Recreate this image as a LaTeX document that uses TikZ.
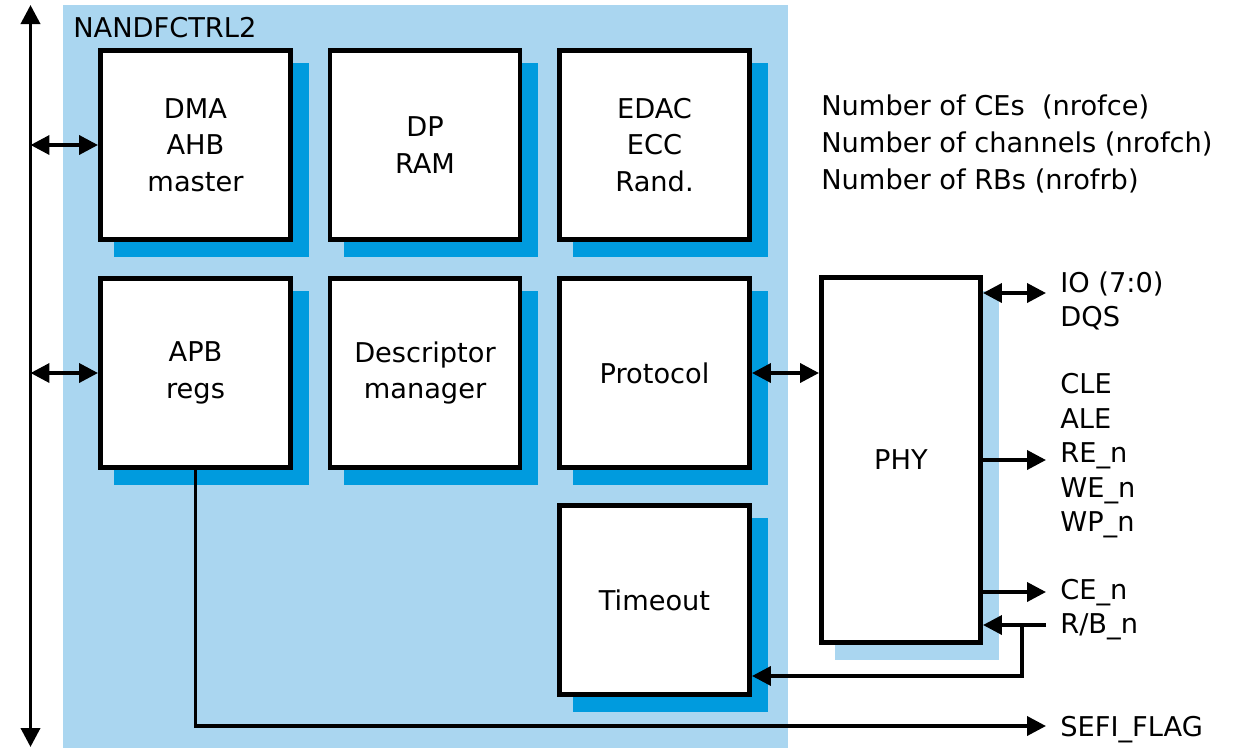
\documentclass[tikz,border=0pt]{standalone}
\usepackage{fontspec}
\setmainfont{DejaVu Sans}
\usetikzlibrary{arrows.meta,calc,backgrounds}
\definecolor{bgblue}{RGB}{170,214,240}
\definecolor{shblue}{RGB}{0,155,222}
\begin{document}
\begin{tikzpicture}[x=0.02cm,y=-0.02cm,
  blk/.style={draw=black,line width=0.095cm,fill=white,minimum width=3.805cm,minimum height=3.785cm,inner sep=0pt,align=center,font=\fontsize{15.5pt}{20.8pt}\selectfont},
  conn/.style={line width=0.075cm},
  tip/.style={-{Triangle[length=0.38cm,width=0.38cm]}},
  dtip/.style={{Triangle[length=0.38cm,width=0.38cm]}-{Triangle[length=0.38cm,width=0.38cm]}},
  lbl/.style={anchor=base west,inner sep=0pt,font=\fontsize{15.5pt}{20.8pt}\selectfont}]
\useasboundingbox (0,0) rectangle (1240,748);

% blocks
\node[blk] (dma) at (195.5,145) {DMA\\AHB\\master};
\node[blk] (dpram) at (425,145) {DP\\RAM};
\node[blk] (edac) at (654.5,145) {EDAC\\ECC\\Rand.};
\node[blk] (apb) at (195.5,373) {APB\\regs};
\node[blk] (desc) at (425,373) {Descriptor\\manager};
\node[blk] (proto) at (654.5,373) {Protocol};
\node[blk] (tout) at (654.5,600) {Timeout};
\node[blk,minimum width=3.185cm,minimum height=7.305cm] (phy) at (901,460) {PHY};

\begin{scope}[on background layer]
  \fill[bgblue] (63,5) rectangle (788,748);
  \foreach \n in {dma,dpram,edac,apb,desc,proto,tout}
    \fill[shblue] ($(\n.north west)+(16,15)$) rectangle ($(\n.south east)+(16,15)$);
  \fill[bgblue] ($(phy.north west)+(16,16)$) rectangle ($(phy.south east)+(16,15)$);
\end{scope}

% labels
\node[lbl] (title) at (73,37) {NANDFCTRL2};
\node[lbl] (nce) at (821,115) {Number of CEs\ \ (nrofce)};
\node[lbl] (nch) at (821,152) {Number of channels (nrofch)};
\node[lbl] (nrb) at (821,189) {Number of RBs (nrofrb)};
\node[lbl] (io) at (1060,292) {IO (7:0)};
\node[lbl] (dqs) at (1060,326) {DQS};
\node[lbl] (cle) at (1060,393) {CLE};
\node[lbl] (ale) at (1060,428) {ALE};
\node[lbl] (ren) at (1060,462) {RE\_n};
\node[lbl] (wen) at (1060,497) {WE\_n};
\node[lbl] (wpn) at (1060,531) {WP\_n};
\node[lbl] (cen) at (1060,599) {CE\_n};
\node[lbl] (rbn) at (1060,633) {R/B\_n};
\node[lbl] (sefi) at (1060,736) {SEFI\_FLAG};

% bus
\coordinate (bustop) at (30.5,5);
\coordinate (busbot) at (30.5,747);
\draw[conn,dtip] (busbot) -- (bustop);
\draw[conn,dtip] (dma.west -| bustop) -- (dma.west);
\draw[conn,dtip] (apb.west -| bustop) -- (apb.west);

% PHY connections
\draw[conn,dtip] (proto.east) -- (proto.east -| phy.west);
\coordinate (ioend) at (1046,293);
\coordinate (reend) at (1046,460);
\coordinate (ceend) at (1046,592);
\coordinate (rbend) at (1046,625);
\coordinate (rbjoin) at (1022,625);
\coordinate (sefiend) at (1046,726);
\draw[conn,dtip] (ioend -| phy.east) -- (ioend);
\draw[conn,tip] (reend -| phy.east) -- (reend);
\draw[conn,tip] (ceend -| phy.east) -- (ceend);
\draw[conn,tip] (rbend) -- (rbend -| phy.east);
\draw[conn,tip] (rbjoin) |- ($(tout.south east)+(0,-21)$);
\draw[conn,tip] (apb.south) |- (sefiend);
\end{tikzpicture}
\end{document}
